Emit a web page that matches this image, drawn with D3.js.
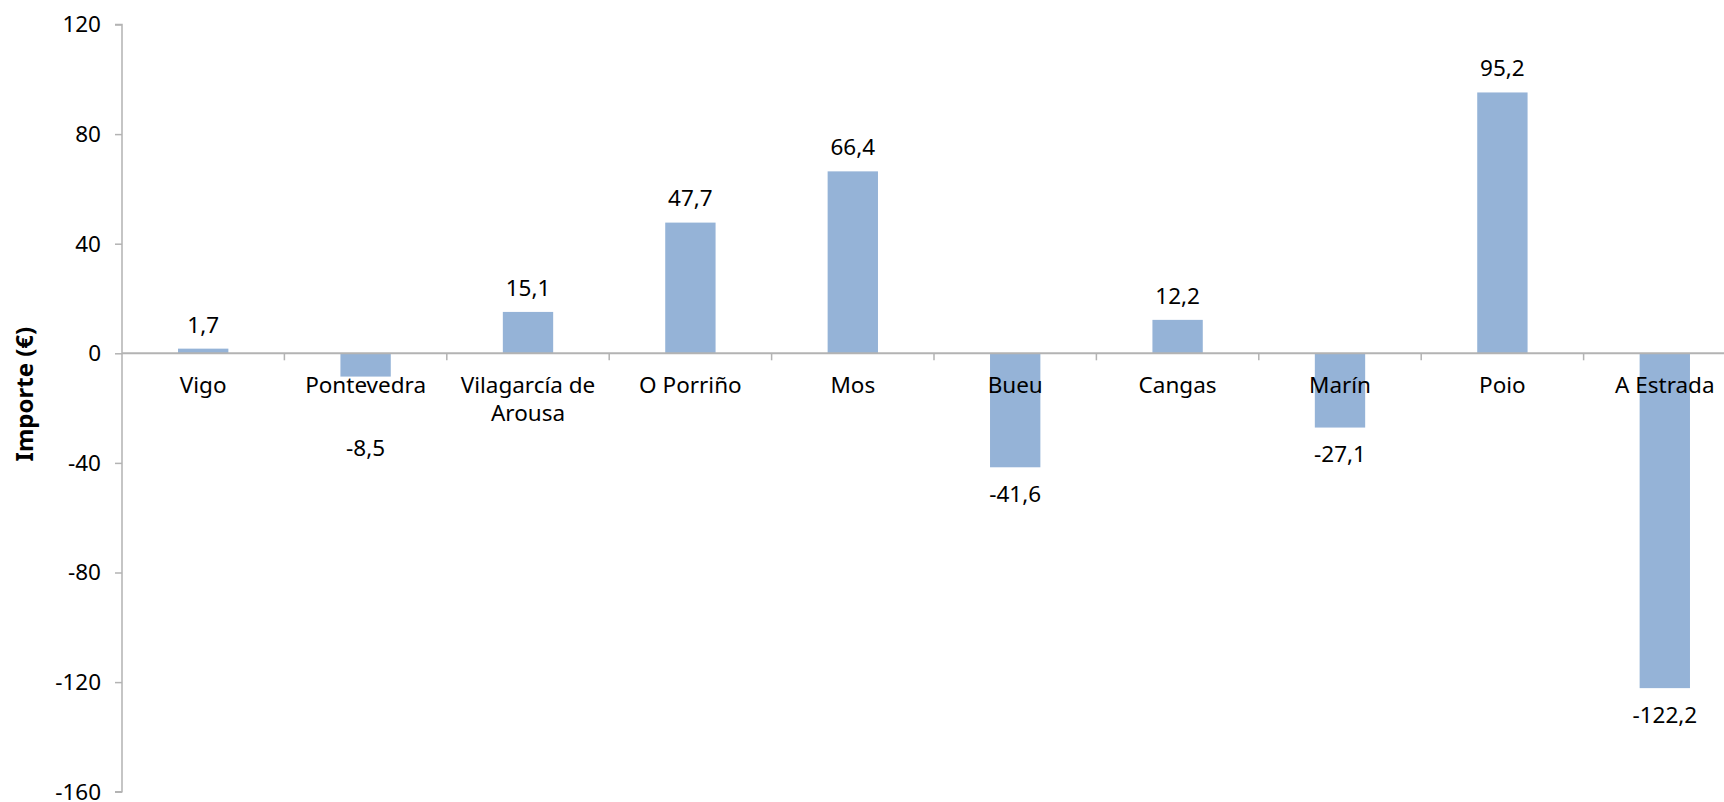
<!DOCTYPE html>
<html>
<head>
<meta charset="utf-8">
<script src="https://cdn.jsdelivr.net/npm/d3@7"></script>
<style>
  html, body { margin: 0; padding: 0; background: #fff; }
  svg { display: block; }
  text { font-family: "Noto Sans", sans-serif; fill: #000; }
</style>
</head>
<body>
<svg id="chart" width="1724" height="802"></svg>
<script>
const categories = ["Vigo", "Pontevedra", "Vilagarcía de Arousa", "O Porriño", "Mos", "Bueu", "Cangas", "Marín", "Poio", "A Estrada"];
const categoryLines = [["Vigo"], ["Pontevedra"], ["Vilagarcía de", "Arousa"], ["O Porriño"], ["Mos"], ["Bueu"], ["Cangas"], ["Marín"], ["Poio"], ["A Estrada"]];
const values = [1.7, -8.5, 15.1, 47.7, 66.4, -41.6, 12.2, -27.1, 95.2, -122.2];
const yTicks = [120, 80, 40, 0, -40, -80, -120, -160];
const yTitle = "Importe (€)";

const svg = d3.select("#chart");
const plotLeft = 122, plotTop = 24.5, plotBottom = 791.7, step = 162.4;
const fontSize = 22.5;
const axisColor = "#b3b3b3";
const barColor = "#95b3d7";

const x = d3.scaleBand().domain(categories)
  .range([plotLeft, plotLeft + step * categories.length])
  .paddingInner(0.69).paddingOuter(0.345);
const y = d3.scaleLinear().domain([-160, 120]).range([plotBottom, plotTop]);

const loc = d3.formatLocale({decimal: ",", thousands: ".", grouping: [3], currency: ["", "€"], minus: "-"});
const fmt = loc.format(".1f");

// bars
svg.append("g").selectAll("rect").data(values).join("rect")
  .attr("x", (d, i) => x(categories[i]))
  .attr("width", x.bandwidth())
  .attr("y", d => y(Math.max(0, d)))
  .attr("height", d => Math.abs(y(d) - y(0)))
  .attr("fill", barColor);

// y axis
const yAxis = d3.axisLeft(y).tickValues(yTicks).tickSize(7).tickPadding(14)
  .tickFormat(d => loc.format("d")(d));
const gy = svg.append("g").attr("transform", `translate(${plotLeft},0)`).call(yAxis);
gy.select(".domain").attr("stroke", axisColor).attr("stroke-width", 1.5).attr("d", `M-7,${y(120)}H0V${y(-160)}H-7`);
gy.selectAll(".tick line").attr("stroke", axisColor).attr("stroke-width", 1.5);
gy.selectAll(".tick text").attr("font-size", fontSize).attr("font-family", "Noto Sans").attr("fill", "#000")
  .attr("dy", "0.33em");

// x axis (zero line with ticks at band boundaries)
const gx = svg.append("g");
gx.append("line").attr("x1", plotLeft).attr("x2", plotLeft + step * categories.length)
  .attr("y1", y(0)).attr("y2", y(0)).attr("stroke", axisColor).attr("stroke-width", 2);
const bounds = d3.range(1, categories.length + 1).map(i => plotLeft + x.step() * i);
gx.selectAll("line.tk").data(bounds).join("line").attr("class", "tk")
  .attr("x1", d => d).attr("x2", d => d)
  .attr("y1", y(0)).attr("y2", y(0) + 7)
  .attr("stroke", axisColor).attr("stroke-width", 1.5);

// category labels
const cat = svg.append("g").selectAll("text").data(categoryLines).join("text")
  .attr("text-anchor", "middle").attr("font-size", fontSize)
  .attr("x", (d, i) => x(categories[i]) + x.bandwidth() / 2)
  .attr("y", y(0) + 39.5);
cat.selectAll("tspan").data(d => d).join("tspan")
  .attr("x", function() { return d3.select(this.parentNode).attr("x"); })
  .attr("dy", (d, j) => j === 0 ? 0 : 28)
  .text(d => d);

// value labels
svg.append("g").selectAll("text").data(values).join("text")
  .attr("text-anchor", "middle").attr("font-size", fontSize)
  .attr("x", (d, i) => x(categories[i]) + x.bandwidth() / 2)
  .attr("y", d => d >= 0 ? y(d) - 24 : Math.max(y(d) + 27, y(0) + 95))
  .attr("dy", "0.35em")
  .text(d => fmt(d));

// y title
svg.append("text")
  .attr("transform", `translate(25,${(y(0) + y(-40)) / 2 - 14}) rotate(-90)`)
  .attr("text-anchor", "middle").attr("dy", "0.35em")
  .attr("font-size", 24).attr("font-weight", "bold")
  .text(yTitle);
</script>
</body>
</html>
